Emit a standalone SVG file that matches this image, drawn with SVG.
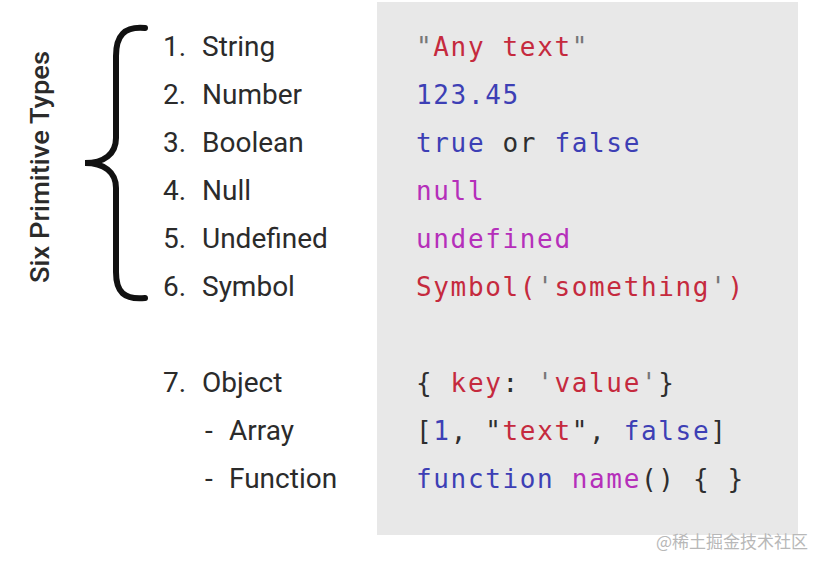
<svg xmlns="http://www.w3.org/2000/svg" width="827" height="563" viewBox="0 0 827 563">
<style>
.lbl{font-family:Roboto,"Liberation Sans",sans-serif;font-size:28px;fill:#2b2b2b}
.code{font-family:"DejaVu Sans Mono","Liberation Mono",monospace;font-size:26px;letter-spacing:1.65px;fill:#333;white-space:pre}
.r{fill:#c52a3e}.b{fill:#3d3fb5}.m{fill:#b52fba}.k{fill:#2e2e2e}.g{fill:#777}
</style>
<rect width="827" height="563" fill="#fff"/>
<rect id="codebox" x="377" y="2" width="421" height="533" fill="#e8e8e8"/>
<g id="title">
<text class="lbl" transform="translate(49,167) rotate(-90)" text-anchor="middle" style="font-weight:500;font-size:26px" textLength="232" lengthAdjust="spacingAndGlyphs">Six Primitive Types</text>
</g>
<g id="brace">
<path d="M145 28 C124 26 116 36 116 56 L116 138 C116 154 104 163 85 163 C104 163 116 172 116 188 L116 272 C116 292 124 300 145 298" fill="none" stroke="#111" stroke-width="6" stroke-linecap="round"/>
</g>
<g id="labels">
<g id="l1"><text class="lbl" x="163" y="56">1.</text><text class="lbl" x="202" y="56">String</text></g>
<g id="l2"><text class="lbl" x="163" y="104">2.</text><text class="lbl" x="202" y="104">Number</text></g>
<g id="l3"><text class="lbl" x="163" y="152">3.</text><text class="lbl" x="202" y="152">Boolean</text></g>
<g id="l4"><text class="lbl" x="163" y="200">4.</text><text class="lbl" x="202" y="200">Null</text></g>
<g id="l5"><text class="lbl" x="163" y="248">5.</text><text class="lbl" x="202" y="248">Undefined</text></g>
<g id="l6"><text class="lbl" x="163" y="296">6.</text><text class="lbl" x="202" y="296">Symbol</text></g>
<g id="l7"><text class="lbl" x="163" y="392">7.</text><text class="lbl" x="202" y="392">Object</text></g>
<g id="l8"><text class="lbl" x="205" y="440">-</text><text class="lbl" x="229" y="440">Array</text></g>
<g id="l9"><text class="lbl" x="205" y="488">-</text><text class="lbl" x="229" y="488">Function</text></g>
</g>
<g id="code">
<text class="code" x="416" y="56"><tspan class="g">"</tspan><tspan class="r">Any text</tspan><tspan class="g">"</tspan></text>
<text class="code b" x="416" y="104">123.45</text>
<text class="code" x="416" y="152"><tspan class="b">true</tspan><tspan class="k"> or </tspan><tspan class="b">false</tspan></text>
<text class="code m" x="416" y="200">null</text>
<text class="code m" x="416" y="248">undefined</text>
<text class="code" x="416" y="296"><tspan class="r">Symbol(</tspan><tspan class="g">'</tspan><tspan class="r">something</tspan><tspan class="g">'</tspan><tspan class="r">)</tspan></text>
<text class="code" x="416" y="392"><tspan class="k">{ </tspan><tspan class="r">key</tspan><tspan class="k">: </tspan><tspan class="g">'</tspan><tspan class="r">value</tspan><tspan class="g">'</tspan><tspan class="k">}</tspan></text>
<text class="code" x="416" y="440"><tspan class="k">[</tspan><tspan class="b">1</tspan><tspan class="k">, "</tspan><tspan class="r">text</tspan><tspan class="k">", </tspan><tspan class="b">false</tspan><tspan class="k">]</tspan></text>
<text class="code" x="416" y="488"><tspan class="b">function</tspan><tspan class="k"> </tspan><tspan class="m">name</tspan><tspan class="k">() { }</tspan></text>
</g>
<text x="808" y="548" text-anchor="end" style="font-family:'Noto Sans CJK SC','Liberation Sans',sans-serif;font-size:17px;fill:#b8b8b8">@稀土掘金技术社区</text>
</svg>
